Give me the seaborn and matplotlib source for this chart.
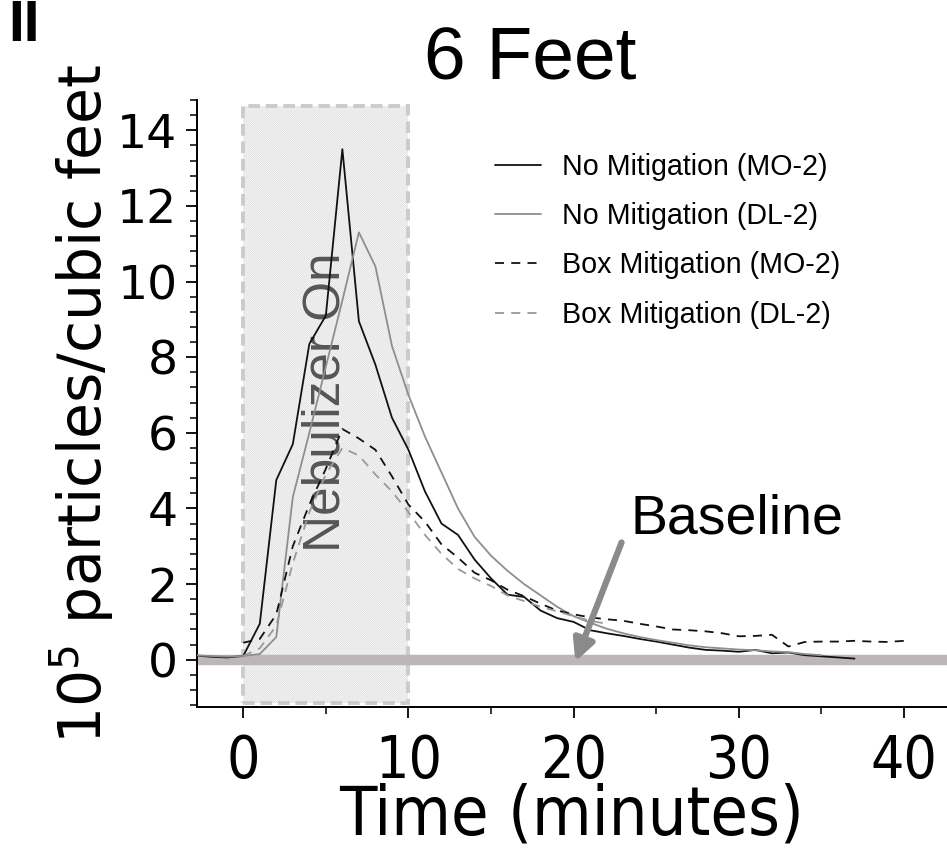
import matplotlib
matplotlib.use("Agg")
import matplotlib.pyplot as plt
from matplotlib.patches import Rectangle
from matplotlib.ticker import MultipleLocator
from matplotlib import font_manager
from matplotlib.font_manager import FontProperties
import pandas as pd
import seaborn as sns

# Particle concentration (10^5 particles / cubic foot) sampled once per minute
t_no_mo2 = list(range(-3, 38))
no_mit_mo2 = [0.12, 0.08, 0.06, 0.10, 0.95, 4.75, 5.70, 8.35, 9.10, 13.50,
              8.95, 7.80, 6.40, 5.55, 4.45, 3.60, 3.30, 2.65, 2.15, 1.72,
              1.66, 1.30, 1.10, 1.00, 0.78, 0.70, 0.63, 0.55, 0.48, 0.40,
              0.32, 0.26, 0.24, 0.21, 0.26, 0.17, 0.19, 0.12, 0.09, 0.06, 0.03]

t_no_dl2 = list(range(-3, 36))
no_mit_dl2 = [0.12, 0.10, 0.08, 0.10, 0.15, 0.60, 4.30, 6.00, 7.75, 9.50,
              11.30, 10.40, 8.30, 7.00, 5.90, 4.95, 4.00, 3.25, 2.75, 2.35,
              2.00, 1.70, 1.40, 1.15, 0.98, 0.82, 0.70, 0.60, 0.52, 0.45,
              0.38, 0.33, 0.30, 0.27, 0.25, 0.22, 0.20, 0.15, 0.12]

t_box_mo2 = list(range(0, 41))
box_mo2 = [0.45, 0.55, 1.20, 3.00, 4.10, 5.05, 6.10, 5.85, 5.55, 4.85,
           4.10, 3.65, 3.05, 2.70, 2.30, 2.10, 1.85, 1.68, 1.48, 1.30,
           1.20, 1.12, 1.07, 1.03, 0.95, 0.88, 0.80, 0.78, 0.75, 0.70,
           0.62, 0.63, 0.66, 0.35, 0.47, 0.48, 0.48, 0.50, 0.48, 0.47, 0.50]

t_box_dl2 = list(range(0, 23))
box_dl2 = [0.10, 0.30, 0.90, 2.55, 3.90, 4.90, 5.60, 5.40, 4.90, 4.45,
           3.90, 3.30, 2.80, 2.40, 2.15, 1.95, 1.70, 1.55, 1.40, 1.28,
           1.15, 1.03, 0.95]

labels = ["No Mitigation (MO-2)", "No Mitigation (DL-2)",
          "Box Mitigation (MO-2)", "Box Mitigation (DL-2)"]
x_ticks = [0, 10, 20, 30, 40]
y_ticks = [0, 2, 4, 6, 8, 10, 12, 14]

sns.set_style("ticks")
plt.rcParams["font.family"] = ["Liberation Sans", "DejaVu Sans"]
for key in ("text.color", "axes.labelcolor", "xtick.color", "ytick.color",
            "axes.edgecolor"):
    plt.rcParams[key] = "black"
plt.rcParams["hatch.linewidth"] = 0.6

# prefer a condensed face for the time axis if one is installed
cond_path = None
for f in font_manager.fontManager.ttflist:
    if f.name in ("Liberation Sans Narrow", "DejaVu Sans") and \
            ("ondensed" in f.fname or "Narrow" in f.fname) and f.weight in (400, "normal") \
            and f.style == "normal":
        cond_path = f.fname
        break
xfont = FontProperties(fname=cond_path) if cond_path else FontProperties(family="Liberation Sans")

fig = plt.figure(figsize=(9.47, 8.5), dpi=100)
ax = fig.add_axes([197 / 947, 143 / 850, 750 / 947, 607 / 850])

# nebulizer-on window (0-10 min): hatched, dashed outline
ax.add_patch(Rectangle((0, -1.15), 10, 15.8, facecolor="#fbfbfb",
                       edgecolor="#e0e0e0", hatch="\\" * 16, linewidth=0, zorder=0.5))
ax.add_patch(Rectangle((0, -1.15), 10, 15.8, fill=False, edgecolor="#cbcbcb",
                       linestyle=(0, (3, 1.5)), linewidth=2.8, zorder=0.6))

# baseline band
ax.axhline(0, color="#bcb6b6", linewidth=7.5, zorder=1.5)

frames = [
    pd.DataFrame({"t": t_no_mo2, "c": no_mit_mo2}),
    pd.DataFrame({"t": t_no_dl2, "c": no_mit_dl2}),
    pd.DataFrame({"t": t_box_mo2, "c": box_mo2}),
    pd.DataFrame({"t": t_box_dl2, "c": box_dl2}),
]
colors = ["#111111", "#8e8e8e", "#111111", "#999999"]
styles = ["-", "-", (0, (5, 4)), (0, (5, 4))]
for df, lab, col, ls in zip(frames, labels, colors, styles):
    sns.lineplot(data=df, x="t", y="c", ax=ax, color=col, linestyle=ls,
                 linewidth=1.3, label=lab, zorder=3)

ax.set_xlim(-2.8, 42.6)
ax.set_ylim(-1.25, 14.8)
ax.set_xticks(x_ticks)
ax.set_yticks(y_ticks)
ax.xaxis.set_minor_locator(MultipleLocator(5))
ax.yaxis.set_minor_locator(MultipleLocator(0.4))
sns.despine(ax=ax)
for s in ("left", "bottom"):
    ax.spines[s].set_linewidth(1.4)
    ax.spines[s].set_color("black")
ax.tick_params(axis="both", which="major", direction="out", length=8, width=1.3,
               color="black", labelcolor="black")
ax.tick_params(axis="both", which="minor", direction="out", length=5, width=1.1,
               color="black")
ax.tick_params(axis="y", which="major", pad=6)
ax.tick_params(axis="x", which="major", pad=11)
for lbl in ax.get_yticklabels():
    lbl.set_fontfamily("DejaVu Sans")
    lbl.set_fontsize(34)
for lbl in ax.get_xticklabels():
    lbl.set_fontproperties(xfont)
    lbl.set_fontsize(42)

xl = ax.set_xlabel("Time (minutes)", fontproperties=xfont, labelpad=-6)
xl.set_fontsize(58)
ax.set_ylabel(r"$\mathregular{10^5}$ particles/cubic feet", fontsize=42,
              family="DejaVu Sans", labelpad=1, color="black")

ax.text(5, 6.8, "Nebulizer On", rotation=90, fontsize=37, color="#555555",
        ha="center", va="center", zorder=2)

ax.annotate("", xy=(20.1, -0.05), xytext=(22.9, 3.1),
            arrowprops=dict(arrowstyle="-|>", color="#8a8a8a", lw=4.5,
                            mutation_scale=32, shrinkA=0, shrinkB=0), zorder=4)
ax.text(29.9, 3.72, "Baseline", fontsize=40, ha="center", va="center", color="black")

leg = ax.legend(loc="upper left", bbox_to_anchor=(495 / 947, 1 - 153 / 850),
                bbox_transform=fig.transFigure, frameon=False, fontsize=20.6,
                handlelength=1.6, handletextpad=0.75, labelspacing=0.74,
                borderaxespad=0, borderpad=0)
for txt in leg.get_texts():
    txt.set_color("black")

fig.text(530 / 947, 1 - 60 / 850, "6 Feet", fontsize=54, ha="center", va="center",
         color="black")
fig.text(8 / 947, 1 - 26 / 850, "II", fontsize=41, fontweight="bold",
         ha="left", va="center", color="black")

# fit the time-axis title to its intended span
fig.canvas.draw()
w = xl.get_window_extent().width
xl.set_fontsize(58 * 465 / w)

fig.savefig("out.png", dpi=100)
